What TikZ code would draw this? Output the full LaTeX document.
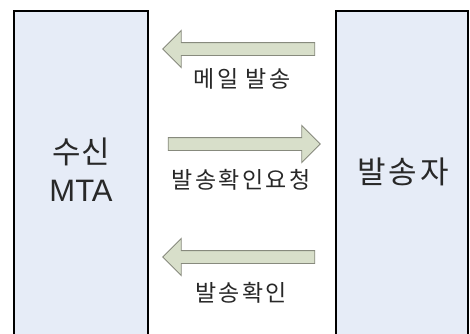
\documentclass[tikz,border=0pt]{standalone}
\usepackage{fontspec}
\setmainfont{Liberation Sans}
\newfontfamily\kr{Noto Sans CJK KR}
\newfontfamily\krsp[LetterSpace=10]{Noto Sans CJK KR}
\usetikzlibrary{shapes.arrows}
\definecolor{boxfill}{RGB}{230,236,247}
\definecolor{arrfill}{RGB}{216,223,202}
\definecolor{arrline}{RGB}{135,138,125}
\definecolor{txt}{RGB}{40,40,40}
\tikzset{
  sidebox/.style={draw=black, line width=2pt, fill=boxfill},
  blockarrow/.style={single arrow, draw=arrline, fill=arrfill, line width=0.9pt,
    minimum height=152pt, inner ysep=6pt, inner xsep=0pt,
    single arrow head extend=12pt, single arrow tip angle=90},
  lab/.style={text=txt, font=\krsp\fontsize{23}{25}\selectfont, inner sep=0pt},
  big/.style={text=txt, font=\fontsize{31}{34}\selectfont, inner sep=0pt, align=center}
}
\begin{document}
\begin{tikzpicture}[x=1pt,y=-1pt]
\useasboundingbox (0,0) rectangle (470,333);
\fill[white] (0,0) rectangle (470,333);
\draw[sidebox] (14,11) rectangle (148,340) coordinate (lb);
\draw[sidebox] (336,11) rectangle (468,340) coordinate (rb);
\node[blockarrow, shape border rotate=180] (a1) at (242,49) {};
\node[blockarrow] (a2) at (241,144) {};
\node[blockarrow, shape border rotate=180] (a3) at (242,257) {};
\node[lab] (l1) at (242,79) {메일 발송};
\node[lab] (l2) at (241,180) {발송확인요청};
\node[lab] (l3) at (241,293) {발송확인};
\node[big, font=\kr\fontsize{31}{34}\selectfont] (s1) at (81,152) {수신};
\node[big] (s2) at (81,191) {MTA};
\node[big, font=\krsp\fontsize{31}{34}\selectfont] (s3) at (403,172) {발송자};
\end{tikzpicture}
\end{document}
